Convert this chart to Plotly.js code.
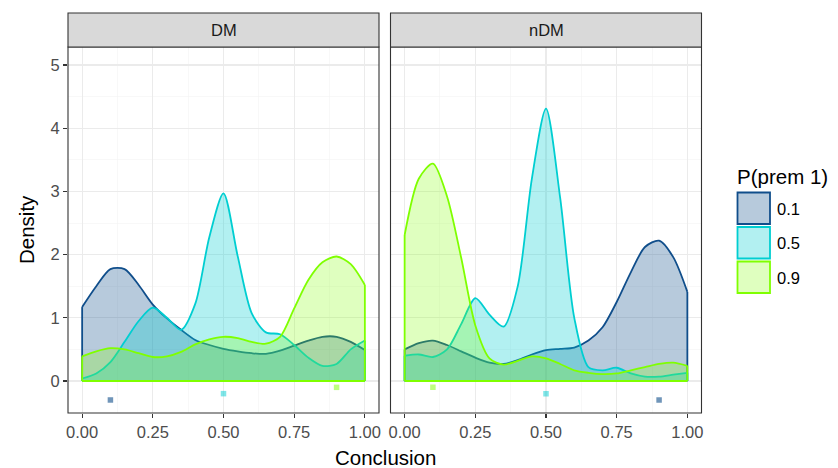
<!DOCTYPE html>
<html>
<head>
<meta charset="utf-8">
<script src="https://cdn.plot.ly/plotly-3.0.1.min.js"></script>
<style>html,body{margin:0;padding:0;background:#fff;}#chart{width:838px;height:468px;}</style>
</head>
<body>
<div id="chart"></div>
<script>
// ---- data ----
const panels = ["DM", "nDM"];
const groups = ["0.1", "0.5", "0.9"];
const xGrid = [0, 0.05, 0.10, 0.15, 0.20, 0.25, 0.30, 0.35, 0.40, 0.45, 0.50,
               0.55, 0.60, 0.65, 0.70, 0.75, 0.80, 0.85, 0.90, 0.95, 1.0];

const dmP01 = [1.17, 1.50, 1.77, 1.77, 1.52, 1.21, 0.99, 0.81, 0.65, 0.57, 0.51,
               0.47, 0.44, 0.43, 0.48, 0.56, 0.64, 0.70, 0.70, 0.62, 0.49];
const dmP05 = [0.04, 0.12, 0.30, 0.62, 0.95, 1.16, 1.00, 0.81, 1.22, 2.28, 2.97,
               1.98, 1.07, 0.77, 0.74, 0.57, 0.37, 0.24, 0.27, 0.50, 0.64];
const dmP09 = [0.39, 0.47, 0.52, 0.50, 0.44, 0.38, 0.39, 0.46, 0.58, 0.66, 0.70,
               0.68, 0.62, 0.59, 0.70, 1.15, 1.60, 1.88, 1.97, 1.85, 1.52];

const ndmP01 = [0.50, 0.60, 0.64, 0.57, 0.47, 0.37, 0.29, 0.27, 0.33, 0.42, 0.49,
                0.51, 0.53, 0.64, 0.85, 1.25, 1.72, 2.12, 2.22, 1.96, 1.41];
const ndmP05 = [0.40, 0.42, 0.38, 0.50, 0.90, 1.31, 1.05, 0.86, 1.50, 3.20, 4.31,
                2.90, 1.00, 0.22, 0.17, 0.21, 0.12, 0.07, 0.07, 0.10, 0.13];
const ndmP09 = [2.31, 3.20, 3.44, 2.92, 1.95, 0.88, 0.36, 0.26, 0.32, 0.39, 0.36,
                0.27, 0.17, 0.13, 0.11, 0.12, 0.17, 0.22, 0.27, 0.29, 0.24];

// group means shown under each density
const meanDM  = [0.1, 0.5, 0.9];
const meanNDM = [0.9, 0.5, 0.1];
const meanY   = [-0.3, -0.2, -0.1];

const yTitle = "Density";
const xTitle = "Conclusion";
const legendTitle = "P(prem 1)";

// ---- styles ----
const lineCols = ["rgb(16,78,139)", "rgb(0,206,209)", "rgb(127,255,0)"];
const fillCols = ["rgba(16,78,139,0.3)", "rgba(0,206,209,0.3)", "rgba(127,255,0,0.25)"];
const ptCols   = ["rgba(16,78,139,0.6)", "rgba(0,206,209,0.5)", "rgba(127,255,0,0.5)"];
const FONT = "Liberation Sans, Arial, Helvetica, sans-serif";

const series = [[dmP01, dmP05, dmP09], [ndmP01, ndmP05, ndmP09]];
const means = [meanDM, meanNDM];

const traces = [];
panels.forEach((p, pi) => {
  const xa = pi === 0 ? "x" : "x2";
  const ya = pi === 0 ? "y" : "y2";
  groups.forEach((g, gi) => {
    const ys = series[pi][gi];
    traces.push({
      type: "scatter", mode: "lines", x: xGrid, y: ys,
      xaxis: xa, yaxis: ya, fill: "tozeroy", fillcolor: fillCols[gi],
      line: {color: lineCols[gi], width: 1.8, shape: "spline", smoothing: 0.8},
      showlegend: false, hoverinfo: "skip"
    });
    const n = xGrid.length - 1;
    traces.push({
      type: "scatter", mode: "lines",
      x: [xGrid[0], xGrid[0], null, xGrid[0], xGrid[n], null, xGrid[n], xGrid[n]],
      y: [ys[0], 0, null, 0, 0, null, 0, ys[n]],
      xaxis: xa, yaxis: ya,
      line: {color: lineCols[gi], width: 1.8},
      showlegend: false, hoverinfo: "skip"
    });
  });
  groups.forEach((g, gi) => {
    traces.push({
      type: "scatter", mode: "markers", x: [means[pi][gi]], y: [meanY[gi]],
      xaxis: xa, yaxis: ya,
      marker: {symbol: "square", size: 5.5, color: ptCols[gi], line: {width: 0}},
      showlegend: false, hoverinfo: "skip"
    });
  });
});

const W = 838, H = 468;
const px = v => v / W;
const py = v => (H - v) / H;

const xCommon = {
  range: [-0.05, 1.05], dtick: 0.25, tick0: 0, tickformat: ".2f",
  showgrid: true, gridcolor: "#ebebeb", gridwidth: 1.1,
  minor: {dtick: 0.125, tick0: 0, showgrid: true, gridcolor: "#f3f3f3", gridwidth: 0.6, ticks: ""},
  ticks: "outside", ticklen: 4, tickcolor: "#333333", tickwidth: 1.1,
  tickfont: {family: FONT, size: 16.5, color: "#4d4d4d"},
  zeroline: false, showline: false, fixedrange: true
};
const yCommon = {
  range: [-0.506, 5.285], dtick: 1, tick0: 0,
  showgrid: true, gridcolor: "#ebebeb", gridwidth: 1.1,
  minor: {dtick: 0.5, tick0: 0, showgrid: true, gridcolor: "#f3f3f3", gridwidth: 0.6, ticks: ""},
  zeroline: false, showline: false, fixedrange: true,
  domain: [py(413), py(47)]
};

const shapes = [];
const annotations = [];
["x", "x2"].forEach((xa, i) => {
  const ya = i === 0 ? "y" : "y2";
  shapes.push({type: "rect", xref: xa + " domain", yref: ya + " domain", x0: 0, x1: 1, y0: 0, y1: 1,
    line: {color: "#333333", width: 1.1}, fillcolor: "rgba(0,0,0,0)", layer: "above"});
  shapes.push({type: "rect", xref: xa + " domain", yref: "paper", x0: 0, x1: 1, y0: py(47), y1: py(13),
    line: {color: "#333333", width: 1.1}, fillcolor: "#d9d9d9", layer: "above"});
  annotations.push({xref: xa + " domain", yref: "paper", x: 0.5, y: py(30), text: panels[i],
    showarrow: false, xanchor: "center", yanchor: "middle",
    font: {family: FONT, size: 16.5, color: "#1a1a1a"}});
});

annotations.push({xref: "paper", yref: "paper", x: px(26), y: py(230), text: yTitle, textangle: -90,
  showarrow: false, xanchor: "center", yanchor: "middle", font: {family: FONT, size: 20.5, color: "#000"}});
annotations.push({xref: "paper", yref: "paper", x: px(385), y: py(457), text: xTitle,
  showarrow: false, xanchor: "center", yanchor: "middle", font: {family: FONT, size: 20.5, color: "#000"}});

// custom legend
annotations.push({xref: "paper", yref: "paper", x: px(735), y: py(176), text: legendTitle,
  showarrow: false, xanchor: "left", yanchor: "middle", font: {family: FONT, size: 20.5, color: "#000"}});
groups.forEach((g, gi) => {
  const top = 192 + gi * 34.5;
  shapes.push({type: "rect", xref: "paper", yref: "paper", x0: px(737.5), x1: px(770), y0: py(top + 32), y1: py(top + 0.5),
    line: {color: lineCols[gi], width: 1.8}, fillcolor: fillCols[gi]});
  annotations.push({xref: "paper", yref: "paper", x: px(775), y: py(top + 16.5), text: g,
    showarrow: false, xanchor: "left", yanchor: "middle", font: {family: FONT, size: 16.5, color: "#000"}});
});

const layout = {
  width: W, height: H, margin: {l: 0, r: 0, t: 0, b: 0},
  paper_bgcolor: "#ffffff", plot_bgcolor: "#ffffff",
  showlegend: false,
  font: {family: FONT},
  xaxis: Object.assign({}, xCommon, {domain: [px(68), px(379)], anchor: "y"}),
  xaxis2: Object.assign({}, xCommon, {domain: [px(390.5), px(701.5)], anchor: "y2"}),
  yaxis: Object.assign({}, yCommon, {anchor: "x", ticks: "outside", ticklen: 4, tickcolor: "#333333", tickwidth: 1.1,
    tickfont: {family: FONT, size: 16.5, color: "#4d4d4d"}}),
  yaxis2: Object.assign({}, yCommon, {anchor: "x2", showticklabels: false, ticks: ""}),
  shapes: shapes, annotations: annotations
};

Plotly.newPlot("chart", traces, layout, {displayModeBar: false, staticPlot: true});
</script>
</body>
</html>
